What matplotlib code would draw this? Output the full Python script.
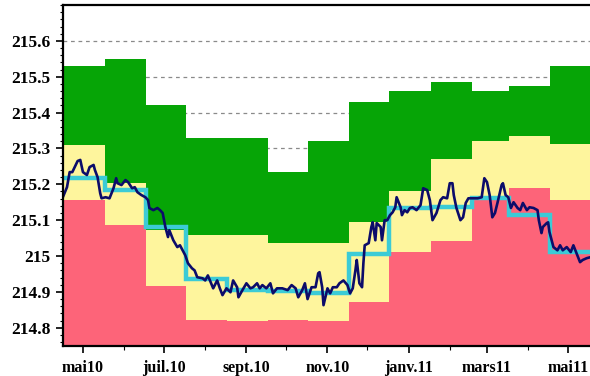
import matplotlib
matplotlib.use("Agg")
import matplotlib.pyplot as plt
import matplotlib.dates as mdates
from matplotlib.ticker import MultipleLocator, FuncFormatter, FixedLocator
import pandas as pd

# Monthly reference bands, one value per month (May 2010 .. May 2011)
months = pd.date_range("2010-05-01", "2011-05-01", freq="MS")
red_top = [215.156, 215.087, 214.916, 214.823, 214.818, 214.821, 214.819,
           214.872, 215.010, 215.043, 215.156, 215.189, 215.156]
yellow_top = [215.310, 215.204, 215.072, 215.060, 215.060, 215.035, 215.035,
              215.095, 215.180, 215.270, 215.320, 215.335, 215.312]
green_top = [215.530, 215.550, 215.420, 215.330, 215.330, 215.235, 215.320,
             215.430, 215.460, 215.486, 215.460, 215.475, 215.530]
monthly_mean = [215.218, 215.184, 215.081, 214.935, 214.905, 214.903, 214.898,
                215.007, 215.135, 215.137, 215.161, 215.114, 215.012]

# Daily level: days counted from 1 May 2010
day_start = pd.Timestamp("2010-05-01")
day_offset = [
    -15, -12, -10, -8, -4, -2, 0, 3, 5, 8, 9, 11, 13, 14,
    17, 20, 23, 25, 26, 29, 32, 34, 37, 39, 41, 44,
    47, 49, 50, 53, 56, 58, 60, 62, 64, 65, 68, 71, 73,
    77, 79, 82, 84, 86, 90, 92, 94, 97, 98, 101, 103, 105,
    108, 111, 113, 116, 117, 120, 123, 126, 128, 131, 133, 135,
    138, 141, 143, 146, 148, 150, 154, 157, 160, 162, 165,
    167, 169, 172, 175, 177, 178, 180, 181, 184, 186, 188, 191, 193, 196,
    199, 201, 203, 205, 206, 208, 210, 211, 212, 215, 217, 218, 220, 221, 224, 225,
    227, 229, 231, 233, 235, 236, 239, 240, 242, 244, 246, 248, 251, 254,
    256, 259, 261, 263, 266, 269, 271, 274, 276, 278, 279, 281, 284,
    286, 288, 290, 293, 297, 300, 302, 304, 306, 308, 310, 312,
    315, 316, 318, 320, 322, 324, 327, 329, 331, 334, 336, 339, 342,
    343, 345, 346, 349, 350, 351, 354, 357, 359, 361, 364, 367, 369, 372,
    374, 376, 379, 382,
]
daily_level = [
    215.165, 215.192, 215.234, 215.234, 215.265, 215.268, 215.234, 215.226, 215.248, 215.254, 215.240, 215.220, 215.175, 215.161,
    215.164, 215.161, 215.189, 215.217, 215.203, 215.198, 215.212, 215.206, 215.189, 215.192, 215.178, 215.170,
    215.164, 215.156, 215.134, 215.128, 215.134, 215.128, 215.120, 215.081, 215.053, 215.072, 215.044, 215.025, 215.030,
    215.002, 214.980, 214.966, 214.960, 214.941, 214.938, 214.932, 214.946, 214.919, 214.910, 214.932, 214.910, 214.891,
    214.910, 214.899, 214.932, 214.913, 214.885, 214.905, 214.924, 214.910, 214.913, 214.924, 214.910, 214.919,
    214.910, 214.924, 214.896, 214.910, 214.910, 214.910, 214.905, 214.919, 214.910, 214.885, 214.905,
    214.924, 214.880, 214.913, 214.913, 214.952, 214.955, 214.913, 214.863, 214.910, 214.896, 214.913, 214.913, 214.924, 214.932,
    214.919, 214.896, 214.910, 214.960, 214.989, 214.924, 214.913, 214.980, 215.030, 215.036, 215.081, 215.094, 215.044, 215.092, 215.081, 215.044,
    215.100, 215.100, 215.114, 215.122, 215.136, 215.164, 215.136, 215.114, 215.128, 215.122, 215.134, 215.136, 215.128, 215.142,
    215.189, 215.184, 215.156, 215.100, 215.120, 215.156, 215.164, 215.161, 215.203, 215.203, 215.170, 215.134, 215.100,
    215.108, 215.148, 215.161, 215.161, 215.161, 215.164, 215.217, 215.206, 215.170, 215.108, 215.120, 215.150,
    215.198, 215.203, 215.170, 215.164, 215.134, 215.150, 215.134, 215.128, 215.148, 215.128, 215.136, 215.134, 215.128,
    215.100, 215.064, 215.081, 215.092, 215.094, 215.067, 215.025, 215.016, 215.030, 215.016, 215.025, 215.011, 215.030, 215.002,
    214.983, 214.989, 214.994, 214.997,
]

tick_labels = ["mai10", "juil.10", "sept.10", "nov.10", "janv.11", "mars11", "mai11"]
y_ticks = [214.8, 214.9, 215.0, 215.1, 215.2, 215.3, 215.4, 215.5, 215.6]

x_min, x_max = pd.Timestamp("2010-04-16"), pd.Timestamp("2011-05-17 12:00")
y_min, y_max = 214.75, 215.70

# each month's step spans from mid previous month to mid month
inner_edges = list(pd.date_range("2010-05-17 12:00", periods=12, freq=pd.DateOffset(months=1)))
edges = [x_min] + inner_edges + [pd.Timestamp("2011-05-31")]
edge_num = mdates.date2num(edges)

C_RED = "#fd6479"
C_YEL = "#fef59d"
C_GRN = "#06a506"
C_CYAN = "#3ccbd6"
C_NAVY = "#0c0c6a"

fig = plt.figure(figsize=(5.90, 3.76), dpi=100)
ax = fig.add_axes([63 / 590, 1 - 345.7 / 376, 1 - 63 / 590, (345.7 - 5) / 376])
ax.set_axisbelow(True)
ax.xaxis_date()

ax.stairs(red_top, edge_num, baseline=y_min - 1, fill=True, color=C_RED, zorder=1)
ax.stairs(yellow_top, edge_num, baseline=red_top, fill=True, color=C_YEL, zorder=1)
ax.stairs(green_top, edge_num, baseline=yellow_top, fill=True, color=C_GRN, zorder=1)
ax.stairs(monthly_mean, edge_num, baseline=None, color=C_CYAN, lw=3.2, zorder=2)

day_dates = day_start + pd.to_timedelta(day_offset, unit="D")
ax.plot(mdates.date2num(day_dates), daily_level, color=C_NAVY, lw=1.9, zorder=3)

ax.set_xlim(mdates.date2num(x_min), mdates.date2num(x_max))
ax.set_ylim(y_min, y_max)

# y axis
ax.yaxis.set_major_locator(FixedLocator(y_ticks))
ax.yaxis.set_minor_locator(MultipleLocator(0.02))
ax.yaxis.set_major_formatter(FuncFormatter(lambda v, p: f"{round(v, 1):g}"))
ax.grid(axis="y", which="major", color="#8a8a8a", linestyle=(0, (3, 3)), lw=0.9)

# x axis: labels every two months, minor ticks monthly
major_dates = pd.date_range("2010-05-01", periods=len(tick_labels), freq="2MS")
ax.xaxis.set_major_locator(FixedLocator(mdates.date2num(major_dates)))
ax.xaxis.set_minor_locator(FixedLocator(mdates.date2num(months.union(pd.date_range("2010-05-01", "2011-06-01", freq="MS")))))
ax.set_xticklabels(tick_labels)

ax.tick_params(axis="y", which="major", direction="out", length=5, width=1.2, pad=4,
               labelsize=12.5, colors="black")
ax.tick_params(axis="y", which="minor", direction="out", length=2.5, width=0.8)
ax.tick_params(axis="x", which="major", direction="out", length=5, width=1.2, pad=5,
               labelsize=11.5)
ax.tick_params(axis="x", which="minor", direction="out", length=3, width=0.8)
for lab in ax.get_xticklabels() + ax.get_yticklabels():
    lab.set_family("Liberation Serif")
    lab.set_fontweight("bold")

for side in ("left", "bottom", "top"):
    ax.spines[side].set_linewidth(1.6)
    ax.spines[side].set_color("black")
    ax.spines[side].set_zorder(5)
ax.spines["right"].set_visible(False)

fig.savefig("out.png", dpi=100, facecolor="white")
